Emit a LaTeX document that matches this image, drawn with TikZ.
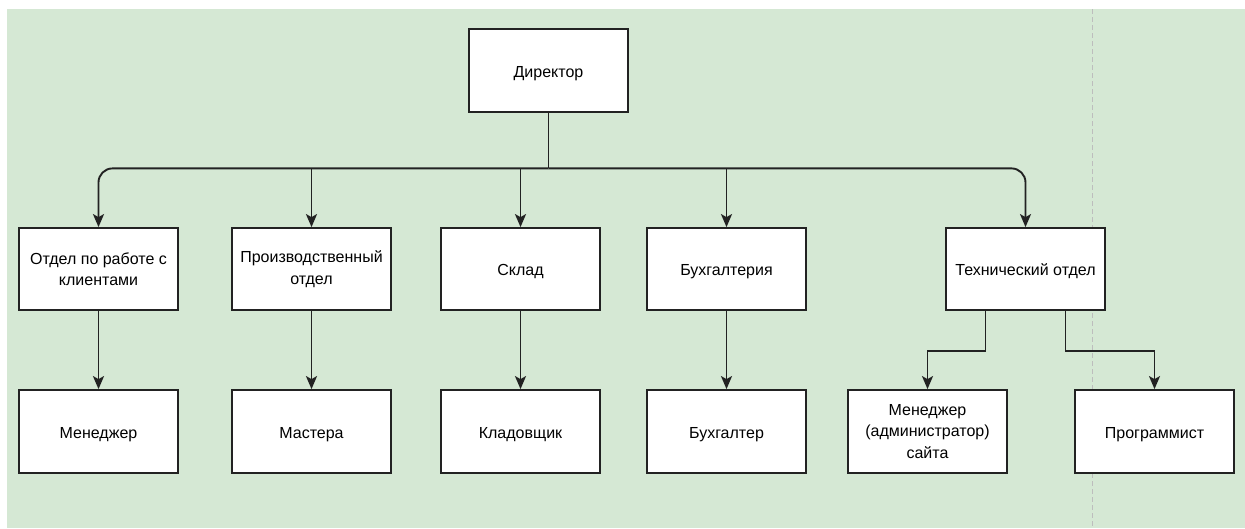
\documentclass[tikz,border=0pt]{standalone}
\usepackage{fontspec}
\setmainfont{Liberation Sans}
\usetikzlibrary{arrows.meta,calc}
\definecolor{bggreen}{HTML}{D5E8D4}
\definecolor{edge}{HTML}{222222}
\definecolor{sepline}{HTML}{BDBDBD}
\tikzset{
  unitbox/.style={draw=edge, line width=1.8pt, fill=white, minimum width=159pt,
    minimum height=83pt, inner sep=0pt, align=center, text=black,
    font=\fontsize{16pt}{21.5pt}\selectfont},
  oneline/.style={text height=13pt, text depth=0pt},
  link/.style={draw=edge, line width=1.9pt},
  arrowlink/.style={link, -{Stealth[length=13pt,width=11pt,inset=3pt]}},
}
\begin{document}
\begin{tikzpicture}[x=1pt,y=-1pt]
  % canvas and page background
  \useasboundingbox (0,0) rectangle (1245,528);
  \fill[white] (0,0) rectangle (1245,528);
  \fill[bggreen] (7,9) rectangle (1245,528);
  \draw[sepline, line width=1pt, dash pattern=on 5pt off 3pt] (1092.5,9) -- (1092.5,528);

  % top level
  \node[unitbox, oneline] (dir) at (548.5,70.5) {Директор};

  % departments
  \node[unitbox, minimum height=82pt] (c1) at (98.5,269) {Отдел по работе с\\клиентами};
  \node[unitbox, minimum height=82pt] (c2) at (311.5,269) {Производственный\\отдел};
  \node[unitbox, oneline, minimum height=82pt] (c3) at (520.5,269) {Склад};
  \node[unitbox, oneline, minimum height=82pt] (c4) at (726.5,269) {Бухгалтерия};
  \node[unitbox, oneline, minimum height=82pt] (c5) at (1025.5,269) {Технический отдел};

  % staff
  \node[unitbox, oneline] (s1) at (98.5,431.5) {Менеджер};
  \node[unitbox, oneline] (s2) at (311.5,431.5) {Мастера};
  \node[unitbox, oneline] (s3) at (520.5,431.5) {Кладовщик};
  \node[unitbox, oneline] (s4) at (726.5,431.5) {Бухгалтер};
  \node[unitbox] (s5) at (927.5,431.5) {Менеджер\\(администратор)\\сайта};
  \node[unitbox, oneline] (s6) at (1154.5,431.5) {Программист};

  % director to departments
  \coordinate (bus) at ($(dir.south)+(0,55.5)$);
  \draw[link] (dir.south) -- (bus);
  \draw[arrowlink, rounded corners=14pt] (bus) -| (c1.north);
  \draw[arrowlink, rounded corners=14pt] (bus) -| (c5.north);
  \draw[arrowlink] (c2.north |- bus) -- (c2.north);
  \draw[arrowlink] (c3.north |- bus) -- (c3.north);
  \draw[arrowlink] (c4.north |- bus) -- (c4.north);

  % departments to staff
  \draw[arrowlink] (c1.south) -- (s1.north);
  \draw[arrowlink] (c2.south) -- (s2.north);
  \draw[arrowlink] (c3.south) -- (s3.north);
  \draw[arrowlink] (c4.south) -- (s4.north);
  \coordinate (tl) at ($(c5.south)+(-40,0)$);
  \coordinate (tr) at ($(c5.south)+(40,0)$);
  \draw[arrowlink] (tl) -- ++(0,40.5) -| (s5.north);
  \draw[arrowlink] (tr) -- ++(0,40.5) -| (s6.north);
\end{tikzpicture}
\end{document}
